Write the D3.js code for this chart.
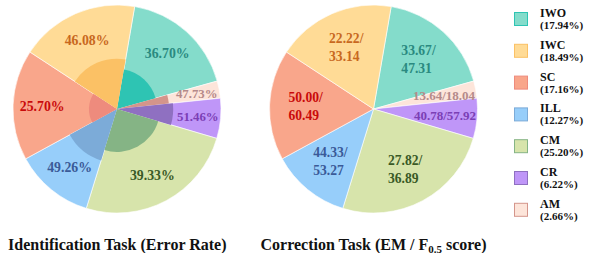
<!DOCTYPE html>
<html lang="en">
<head>
<meta charset="utf-8">
<script src="https://d3js.org/d3.v7.min.js"></script>
<style>
  body { margin: 0; background: #fff; }
  svg text { font-family: "Times New Roman", Times, "Liberation Serif", serif; font-weight: bold; }
</style>
</head>
<body>
<script>
// error type categories, legend order
var categories = ["IWO", "IWC", "SC", "ILL", "CM", "CR", "AM"];
var shares     = [17.94, 18.49, 17.16, 12.27, 25.20, 6.22, 2.66];
var errorRate  = [36.70, 46.08, 25.70, 49.26, 39.33, 51.46, 47.73];
var emScore    = [33.67, 22.22, 50.00, 44.33, 27.82, 40.78, 13.64];
var f05Score   = [47.31, 33.14, 60.49, 53.27, 36.89, 57.92, 18.04];
// clockwise order of the slices
var pieOrder   = ["IWO", "AM", "CR", "CM", "ILL", "SC", "IWC"];

var outerColor = {IWO: "#84dccb", IWC: "#ffdb96", SC: "#f9a68b", ILL: "#97cefa", CM: "#d7e4ab", CR: "#bf96f8", AM: "#fde5da"};
var innerColor = {IWO: "#2ec4b3", IWC: "#fbc165", SC: "#ee8b7d", ILL: "#7cabd8", CM: "#85b485", CR: "#8f70c1", AM: "#d4958b"};
var textColor  = {IWO: "#2a8a80", IWC: "#c8681e", SC: "#c90a0a", ILL: "#3a5a98", CM: "#3a5a26", CR: "#7b3fb5", AM: "#b58a8a"};

var W = 595, H = 253, R = 104;

var rows = pieOrder.map(function (c) {
    var i = categories.indexOf(c);
    return {cat: c, share: shares[i], err: errorRate[i], em: emScore[i], f: f05Score[i]};
});

var pie = d3.pie().sort(null).value(function (d) { return d.share; })
    .startAngle(9.8 * Math.PI / 180).endAngle(9.8 * Math.PI / 180 + 2 * Math.PI);
var arcs = pie(rows);

var arcOuter = d3.arc().innerRadius(0).outerRadius(R);
var rInner = d3.scaleLinear().domain([0, 100]).range([0, R * 1.05]);
var arcInner = d3.arc().innerRadius(0).outerRadius(function (d) { return rInner(d.data.err); });

var svg = d3.select("body").append("svg").attr("width", W).attr("height", H);

function drawPie(cx, cy, withInner) {
    var g = svg.append("g").attr("transform", "translate(" + cx + "," + cy + ")");
    g.selectAll("path.outer").data(arcs).enter().append("path")
        .attr("class", "outer")
        .attr("d", arcOuter)
        .attr("fill", function (d) { return outerColor[d.data.cat]; })
        .attr("stroke", "#fff").attr("stroke-width", 0.6);
    if (withInner) {
        g.selectAll("path.inner").data(arcs).enter().append("path")
            .attr("class", "inner")
            .attr("d", arcInner)
            .attr("fill", function (d) { return innerColor[d.data.cat]; });
    }
    return g;
}

function small(d) { return d.data.share < 7; }

// left pie: identification error rate
var g1 = drawPie(117, 109, true);
var lab1 = d3.arc().innerRadius(R * 0.72).outerRadius(R * 0.72);
var lab1s = d3.arc().innerRadius(R * 0.78).outerRadius(R * 0.78);
g1.selectAll("text").data(arcs).enter().append("text")
    .attr("transform", function (d) {
        var p = small(d) ? lab1s.centroid(d) : lab1.centroid(d);
        return "translate(" + p + ")";
    })
    .attr("text-anchor", "middle").attr("dy", "0.35em")
    .style("font-size", function (d) { return small(d) ? "12.8px" : "13.8px"; })
    .attr("fill", function (d) { return textColor[d.data.cat]; })
    .text(function (d) { return d.data.err.toFixed(2) + "%"; });

// right pie: correction EM / F0.5
var g2 = drawPie(373.5, 109, false);
var lab2 = d3.arc().innerRadius(R * 0.65).outerRadius(R * 0.65);
var lab2s = d3.arc().innerRadius(R * 0.69).outerRadius(R * 0.69);
g2.selectAll("g.lab").data(arcs).enter().append("g")
    .attr("class", "lab")
    .each(function (d) {
        var sel = d3.select(this);
        var p = small(d) ? lab2s.centroid(d) : lab2.centroid(d);
        var t = sel.append("text")
            .attr("fill", textColor[d.data.cat])
            .style("font-size", small(d) ? "13px" : "13.6px");
        if (small(d)) {
            t.attr("x", p[0]).attr("y", p[1]).attr("dy", "0.35em").attr("text-anchor", "middle")
                .text(d.data.em.toFixed(2) + "/" + d.data.f.toFixed(2));
        } else {
            var x0 = p[0] - 17.5;
            t.append("tspan").attr("x", x0).attr("y", p[1] - 4).text(d.data.em.toFixed(2) + "/");
            t.append("tspan").attr("x", x0).attr("y", p[1] + 14).text(d.data.f.toFixed(2));
        }
    });

// titles
svg.append("text").attr("x", 8).attr("y", 249.5)
    .style("font-size", "16px").attr("fill", "#111")
    .text("Identification Task (Error Rate)");
var t2 = svg.append("text").attr("x", 260.5).attr("y", 249.5)
    .style("font-size", "16px").attr("fill", "#111");
t2.append("tspan").text("Correction Task (EM / F");
t2.append("tspan").attr("dy", 3).style("font-size", "11px").text("0.5");
t2.append("tspan").attr("dy", -3).text(" score)");

// legend
var leg = svg.append("g").attr("transform", "translate(514,12)");
var y = d3.scaleBand().domain(categories).range([0, 7 * 31.8]);
var item = leg.selectAll("g").data(categories).enter().append("g")
    .attr("transform", function (c) { return "translate(0," + y(c) + ")"; });
item.append("rect").attr("x", 0.5).attr("y", 0.5).attr("width", 13).attr("height", 13)
    .attr("fill", function (c) { return outerColor[c]; })
    .attr("stroke", function (c) { return innerColor[c]; }).attr("stroke-width", 1);
item.append("text").attr("x", 26).attr("y", 5).style("font-size", "12px").attr("fill", "#111")
    .text(function (c) { return c; });
item.append("text").attr("x", 26).attr("y", 17).style("font-size", "11px").attr("fill", "#111")
    .text(function (c, i) { return "(" + shares[i].toFixed(2) + "%)"; });
</script>
</body>
</html>
